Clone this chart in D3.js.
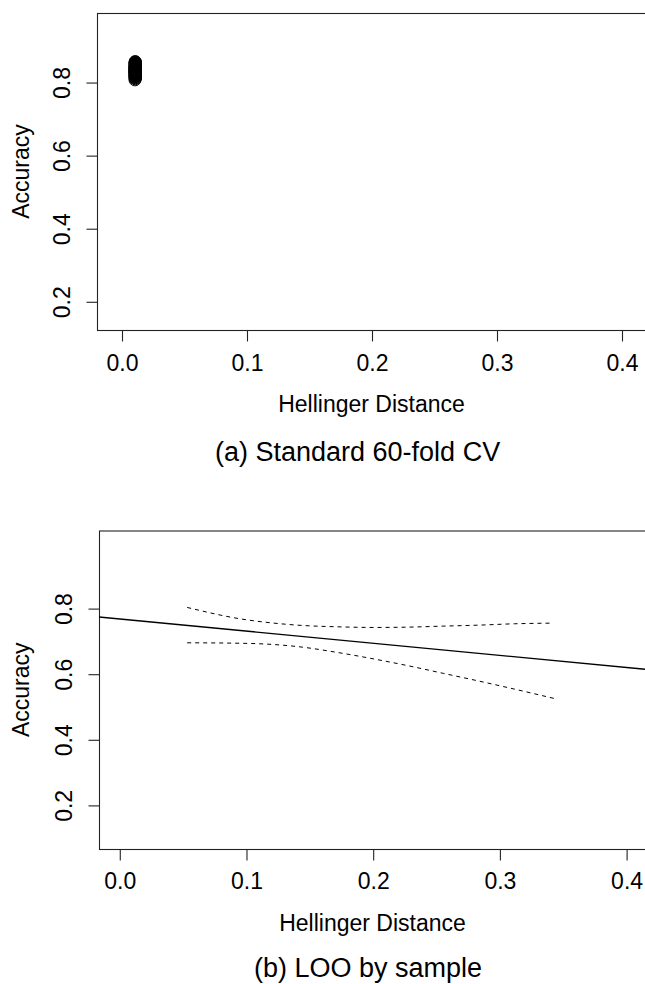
<!DOCTYPE html>
<html>
<head>
<meta charset="utf-8">
<script src="https://cdn.jsdelivr.net/npm/d3@7"></script>
<style>
  html, body { margin: 0; padding: 0; background: #fff; }
  svg { display: block; }
  text { font-family: "Liberation Sans", Arial, Helvetica, sans-serif; fill: #000; }
</style>
</head>
<body>
<svg id="chart" width="645" height="984"></svg>
<script>
// ---------- data ----------
const xTicks = [0.0, 0.1, 0.2, 0.3, 0.4];
const yTicks = [0.2, 0.4, 0.6, 0.8];
const xTitle = "Hellinger Distance";
const yTitle = "Accuracy";
const captionA = "(a) Standard 60-fold CV";
const captionB = "(b) LOO by sample";

// panel (a): 60 folds, Hellinger distance vs accuracy
const cvDistance = [
  0.0108, 0.0110, 0.0109, 0.0111, 0.0107, 0.0110, 0.0112, 0.0109, 0.0108, 0.0111,
  0.0110, 0.0109, 0.0111, 0.0108, 0.0110, 0.0112, 0.0109, 0.0110, 0.0111, 0.0108,
  0.0109, 0.0110, 0.0111, 0.0109, 0.0110, 0.0108, 0.0111, 0.0110, 0.0109, 0.0112,
  0.0110, 0.0108, 0.0109, 0.0111, 0.0110, 0.0109, 0.0111, 0.0110, 0.0108, 0.0109,
  0.0111, 0.0110, 0.0109, 0.0112, 0.0110, 0.0108, 0.0111, 0.0109, 0.0110, 0.0111,
  0.0109, 0.0110, 0.0108, 0.0111, 0.0110, 0.0109, 0.0110, 0.0111, 0.0109, 0.0110
];
const cvAccuracy = [
  0.806, 0.809, 0.811, 0.812, 0.814, 0.815, 0.816, 0.817, 0.818, 0.819,
  0.820, 0.821, 0.822, 0.822, 0.823, 0.824, 0.825, 0.825, 0.826, 0.827,
  0.828, 0.828, 0.829, 0.830, 0.830, 0.831, 0.832, 0.832, 0.833, 0.834,
  0.834, 0.835, 0.836, 0.836, 0.837, 0.838, 0.838, 0.839, 0.840, 0.840,
  0.841, 0.842, 0.843, 0.843, 0.844, 0.845, 0.846, 0.847, 0.848, 0.849,
  0.850, 0.851, 0.852, 0.853, 0.854, 0.855, 0.856, 0.833, 0.827, 0.839
];

// panel (b): fitted regression line and confidence band
const fitIntercept = 0.767;
const fitSlope = -0.370;
const bandX     = [0.0536, 0.0885, 0.0969, 0.1165, 0.1220, 0.1444, 0.1723, 0.2003, 0.2282, 0.2561, 0.2841, 0.3120, 0.3427, 0.3455];
const bandUpper = [0.802,  null,   0.7664, null,   0.7542, 0.7471, 0.7430, 0.7410, 0.7420, 0.7451, 0.7481, 0.7522, 0.7542, null];
const bandLower = [0.6942, 0.6932, null,   0.6902, null,   0.6810, 0.6647, 0.6454, 0.6241, 0.6007, 0.5773, 0.5529, null,   0.5224];

// ---------- layout ----------
const svg = d3.select("#chart");
const TICK = 11;
const FONT_TICK = 23;
const FONT_TITLE = 23;
const FONT_CAP = 27;

function panel(cfg) {
  const x = d3.scaleLinear().domain(cfg.xDomain).range([cfg.left, cfg.right]);
  const y = d3.scaleLinear().domain(cfg.yDomain).range([cfg.bottom, cfg.top]);
  const g = svg.append("g");

  // clip for plot content
  const clipId = "clip-" + cfg.id;
  svg.append("clipPath").attr("id", clipId)
    .append("rect")
    .attr("x", cfg.left).attr("y", cfg.top)
    .attr("width", cfg.right - cfg.left).attr("height", cfg.bottom - cfg.top);

  // box
  g.append("rect")
    .attr("x", cfg.left + 0.5).attr("y", cfg.top + 0.5)
    .attr("width", cfg.right - cfg.left).attr("height", cfg.bottom - cfg.top)
    .attr("fill", "none").attr("stroke", "#222").attr("stroke-width", 1.1);

  // x axis
  const xAxis = g.append("g")
    .attr("transform", `translate(0.5,${cfg.bottom + 0.5})`)
    .call(d3.axisBottom(x).tickValues(xTicks).tickSize(TICK).tickFormat(d3.format(".1f")));
  xAxis.select(".domain").remove();
  xAxis.selectAll(".tick line").attr("stroke", "#222").attr("stroke-width", 1.1);
  xAxis.selectAll(".tick text")
    .attr("y", cfg.xLabelBase).attr("dy", null)
    .attr("font-size", FONT_TICK).attr("font-family", null).attr("fill", "#000");

  // y axis
  const yAxis = g.append("g")
    .attr("transform", `translate(${cfg.left + 0.5},0.5)`)
    .call(d3.axisLeft(y).tickValues(yTicks).tickSize(TICK).tickFormat(d3.format(".1f")));
  yAxis.select(".domain").remove();
  yAxis.selectAll(".tick line").attr("stroke", "#222").attr("stroke-width", 1.1);
  yAxis.selectAll(".tick text")
    .attr("x", null).attr("dy", null).attr("y", null)
    .attr("text-anchor", "middle")
    .attr("transform", `translate(${cfg.yLabelBase},0) rotate(-90)`)
    .attr("font-size", FONT_TICK).attr("font-family", null).attr("fill", "#000");
  xAxis.attr("font-family", null);
  yAxis.attr("font-family", null);

  // titles
  g.append("text")
    .attr("x", (cfg.left + cfg.right) / 2).attr("y", cfg.bottom + cfg.xTitleBase)
    .attr("text-anchor", "middle").attr("font-size", FONT_TITLE)
    .text(xTitle);
  g.append("text")
    .attr("transform", `translate(${cfg.yTitleBase},${(cfg.top + cfg.bottom) / 2}) rotate(-90)`)
    .attr("text-anchor", "middle").attr("font-size", FONT_TITLE)
    .text(yTitle);
  g.append("text")
    .attr("x", cfg.capX).attr("y", cfg.capY)
    .attr("text-anchor", "start").attr("font-size", FONT_CAP)
    .text(cfg.caption);

  const plot = g.append("g").attr("clip-path", `url(#${clipId})`);
  return { x, y, plot };
}

// ---------- panel (a) ----------
const A = panel({
  id: "a", left: 97, right: 646, top: 13, bottom: 330,
  xDomain: [-0.0196, 0.4196], yDomain: [0.1214, 0.9890],
  xLabelBase: 40.5, yLabelBase: -27.5, xTitleBase: 82, yTitleBase: 28.5,
  caption: captionA, capX: 215, capY: 461
});
A.plot.selectAll("circle")
  .data(cvAccuracy.map((a, i) => ({ d: cvDistance[i], a })))
  .join("circle")
  .attr("cx", p => A.x(p.d))
  .attr("cy", p => A.y(p.a))
  .attr("r", 6)
  .attr("fill", "none")
  .attr("stroke", "#000")
  .attr("stroke-width", 1);

// ---------- panel (b) ----------
const B = panel({
  id: "b", left: 99, right: 646, top: 530.5, bottom: 849,
  xDomain: [-0.016, 0.4157], yDomain: [0.0655, 1.0366],
  xLabelBase: 39, yLabelBase: -27.5, xTitleBase: 82, yTitleBase: 28.5,
  caption: captionB, capX: 254, capY: 977
});
const xd = B.x.domain();
B.plot.append("line")
  .attr("x1", B.x(xd[0])).attr("y1", B.y(fitIntercept + fitSlope * xd[0]))
  .attr("x2", B.x(xd[1])).attr("y2", B.y(fitIntercept + fitSlope * xd[1]))
  .attr("stroke", "#000").attr("stroke-width", 1.3);

const bandLine = (vals) => d3.line()
  .defined((d, i) => vals[i] !== null)
  .x((d, i) => B.x(bandX[i]))
  .y((d, i) => B.y(vals[i]))
  .curve(d3.curveMonotoneX);

[bandUpper, bandLower].forEach(vals => {
  const pts = bandX.map((bx, i) => i).filter(i => vals[i] !== null);
  B.plot.append("path")
    .datum(pts)
    .attr("d", d3.line().x(i => B.x(bandX[i])).y(i => B.y(vals[i])).curve(d3.curveMonotoneX))
    .attr("fill", "none")
    .attr("stroke", "#000")
    .attr("stroke-width", 1)
    .attr("stroke-dasharray", "4,4");
});
</script>
</body>
</html>
